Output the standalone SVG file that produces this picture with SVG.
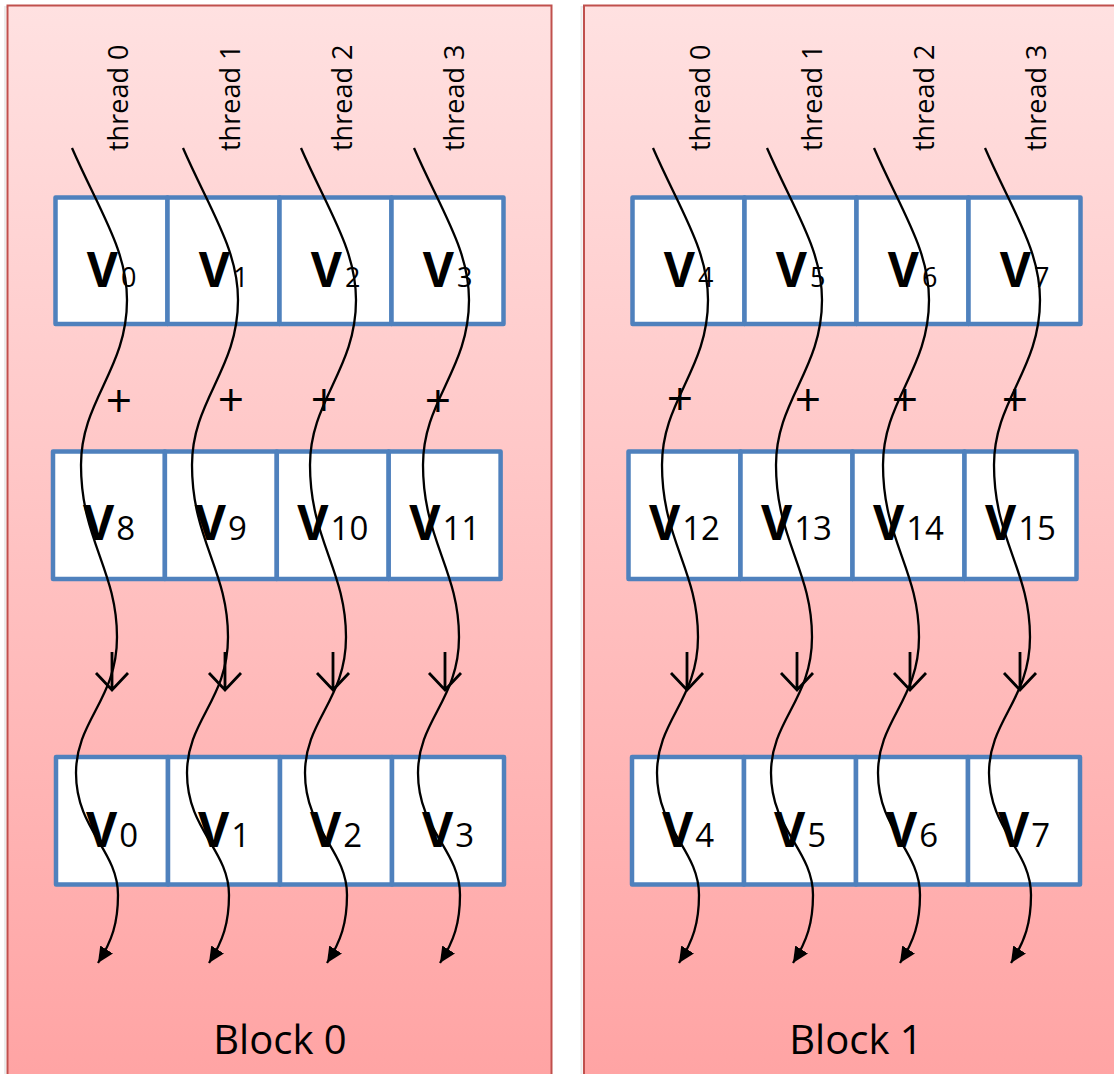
<svg xmlns="http://www.w3.org/2000/svg" width="1114" height="1074" viewBox="0 0 1114 1074">
  <defs>
    <linearGradient id="blockFill" gradientUnits="userSpaceOnUse" x1="0" y1="5" x2="0" y2="1074">
      <stop offset="0" stop-color="#ffe1e1"/>
      <stop offset="1" stop-color="#ffa4a4"/>
    </linearGradient>
    <marker id="head" markerUnits="userSpaceOnUse" markerWidth="17" markerHeight="15" refX="16" refY="7.5" orient="auto">
      <path d="M0,0 L16,7.5 L0,15 z" fill="#000"/>
    </marker>
  </defs>
  <style>
    .block { fill: url(#blockFill); stroke: #c0504d; stroke-width: 2; }
    .shadow { fill: none; stroke: #000; stroke-opacity: 0.08; stroke-width: 2; }
    .cell { fill: #fff; stroke: #4f81bd; stroke-width: 4.5; stroke-linejoin: round; }
    .v { font-family: "Open Sans", "Liberation Sans", sans-serif; font-weight: bold; font-size: 48px; fill: #000; text-anchor: middle; }
    .s1 { font-weight: normal; font-size: 27px; }
    .s2 { font-weight: normal; font-size: 33px; }
    .thread { font-family: "Open Sans", "Liberation Sans", sans-serif; font-size: 27px; fill: #000; }
    .plus { font-family: "Open Sans", "Liberation Sans", sans-serif; font-size: 46px; fill: #000; text-anchor: middle; }
    .label { font-family: "Open Sans", "Liberation Sans", sans-serif; font-size: 40px; fill: #000; text-anchor: middle; }
    .down { fill: none; stroke: #000; stroke-width: 2.8; }
    .wire { fill: none; stroke: #000; stroke-width: 2.3; marker-end: url(#head); }
  </style>

  <!-- blocks -->
  <g id="block0">
    <rect class="shadow" x="5" y="7" width="544" height="1100"/>
    <rect class="block" x="7.5" y="5.5" width="544" height="1100"/>
    <text class="label" x="280" y="1054">Block 0</text>
  </g>
  <g id="block1">
    <rect class="shadow" x="581.5" y="7" width="560" height="1100"/>
    <rect class="block" x="584" y="5.5" width="560" height="1100"/>
    <text class="label" x="856" y="1054">Block 1</text>
  </g>

  <!-- block 0, input row A -->
  <g id="b0-a0"><rect class="cell" x="55.5" y="197.5" width="112" height="126.5"/><text class="v" x="111.5" y="287">V<tspan class="s1" dx="3">0</tspan></text></g>
  <g id="b0-a1"><rect class="cell" x="167.5" y="197.5" width="112" height="126.5"/><text class="v" x="223.5" y="287">V<tspan class="s1" dx="3">1</tspan></text></g>
  <g id="b0-a2"><rect class="cell" x="279.5" y="197.5" width="112" height="126.5"/><text class="v" x="335.5" y="287">V<tspan class="s1" dx="3">2</tspan></text></g>
  <g id="b0-a3"><rect class="cell" x="391.5" y="197.5" width="112" height="126.5"/><text class="v" x="447.5" y="287">V<tspan class="s1" dx="3">3</tspan></text></g>

  <!-- block 0, input row B -->
  <g id="b0-b0"><rect class="cell" x="53" y="451.5" width="111.9" height="127.5"/><text class="v" x="109" y="540">V<tspan class="s2" dx="2">8</tspan></text></g>
  <g id="b0-b1"><rect class="cell" x="164.9" y="451.5" width="111.9" height="127.5"/><text class="v" x="220.9" y="540">V<tspan class="s2" dx="2">9</tspan></text></g>
  <g id="b0-b2"><rect class="cell" x="276.8" y="451.5" width="111.9" height="127.5"/><text class="v" x="332.8" y="540">V<tspan class="s2" dx="2">10</tspan></text></g>
  <g id="b0-b3"><rect class="cell" x="388.7" y="451.5" width="111.9" height="127.5"/><text class="v" x="444.7" y="540">V<tspan class="s2" dx="2">11</tspan></text></g>

  <!-- block 0, output row -->
  <g id="b0-c0"><rect class="cell" x="56" y="757" width="112" height="127.5"/><text class="v" x="112" y="847">V<tspan class="s2" dx="2">0</tspan></text></g>
  <g id="b0-c1"><rect class="cell" x="168" y="757" width="112" height="127.5"/><text class="v" x="224" y="847">V<tspan class="s2" dx="2">1</tspan></text></g>
  <g id="b0-c2"><rect class="cell" x="280" y="757" width="112" height="127.5"/><text class="v" x="336" y="847">V<tspan class="s2" dx="2">2</tspan></text></g>
  <g id="b0-c3"><rect class="cell" x="392" y="757" width="112" height="127.5"/><text class="v" x="448" y="847">V<tspan class="s2" dx="2">3</tspan></text></g>

  <!-- block 1, input row A -->
  <g id="b1-a0"><rect class="cell" x="632.5" y="197.5" width="112" height="126.5"/><text class="v" x="688.5" y="287">V<tspan class="s1" dx="3">4</tspan></text></g>
  <g id="b1-a1"><rect class="cell" x="744.5" y="197.5" width="112" height="126.5"/><text class="v" x="800.5" y="287">V<tspan class="s1" dx="3">5</tspan></text></g>
  <g id="b1-a2"><rect class="cell" x="856.5" y="197.5" width="112" height="126.5"/><text class="v" x="912.5" y="287">V<tspan class="s1" dx="3">6</tspan></text></g>
  <g id="b1-a3"><rect class="cell" x="968.5" y="197.5" width="112" height="126.5"/><text class="v" x="1024.5" y="287">V<tspan class="s1" dx="3">7</tspan></text></g>

  <!-- block 1, input row B -->
  <g id="b1-b0"><rect class="cell" x="628.5" y="451.5" width="112" height="127.5"/><text class="v" x="684.5" y="540">V<tspan class="s2" dx="2">12</tspan></text></g>
  <g id="b1-b1"><rect class="cell" x="740.5" y="451.5" width="112" height="127.5"/><text class="v" x="796.5" y="540">V<tspan class="s2" dx="2">13</tspan></text></g>
  <g id="b1-b2"><rect class="cell" x="852.5" y="451.5" width="112" height="127.5"/><text class="v" x="908.5" y="540">V<tspan class="s2" dx="2">14</tspan></text></g>
  <g id="b1-b3"><rect class="cell" x="964.5" y="451.5" width="112" height="127.5"/><text class="v" x="1020.5" y="540">V<tspan class="s2" dx="2">15</tspan></text></g>

  <!-- block 1, output row -->
  <g id="b1-c0"><rect class="cell" x="632" y="757" width="112" height="127.5"/><text class="v" x="688" y="847">V<tspan class="s2" dx="2">4</tspan></text></g>
  <g id="b1-c1"><rect class="cell" x="744" y="757" width="112" height="127.5"/><text class="v" x="800" y="847">V<tspan class="s2" dx="2">5</tspan></text></g>
  <g id="b1-c2"><rect class="cell" x="856" y="757" width="112" height="127.5"/><text class="v" x="912" y="847">V<tspan class="s2" dx="2">6</tspan></text></g>
  <g id="b1-c3"><rect class="cell" x="968" y="757" width="112" height="127.5"/><text class="v" x="1024" y="847">V<tspan class="s2" dx="2">7</tspan></text></g>

  <!-- thread labels, reading upwards -->
  <g id="thread-labels">
    <text class="thread" transform="translate(128,151) rotate(-90)">thread 0</text>
    <text class="thread" transform="translate(240,151) rotate(-90)">thread 1</text>
    <text class="thread" transform="translate(352,151) rotate(-90)">thread 2</text>
    <text class="thread" transform="translate(464,151) rotate(-90)">thread 3</text>
    <text class="thread" transform="translate(710,151) rotate(-90)">thread 0</text>
    <text class="thread" transform="translate(822,151) rotate(-90)">thread 1</text>
    <text class="thread" transform="translate(934,151) rotate(-90)">thread 2</text>
    <text class="thread" transform="translate(1046,151) rotate(-90)">thread 3</text>
  </g>

  <!-- add operators -->
  <g id="plus-signs">
    <text class="plus" x="119" y="417">+</text>
    <text class="plus" x="231" y="416">+</text>
    <text class="plus" x="324" y="416">+</text>
    <text class="plus" x="438" y="417">+</text>
    <text class="plus" x="680" y="415">+</text>
    <text class="plus" x="808" y="416">+</text>
    <text class="plus" x="905" y="416">+</text>
    <text class="plus" x="1015" y="416">+</text>
  </g>

  <!-- store arrows -->
  <g id="store-arrows">
    <path class="down" d="M112,652 V690 M96,673 L112,690 L128,673"/>
    <path class="down" d="M225,652 V690 M209,673 L225,690 L241,673"/>
    <path class="down" d="M333,652 V690 M317,673 L333,690 L349,673"/>
    <path class="down" d="M445,652 V690 M429,673 L445,690 L461,673"/>
    <path class="down" d="M687,652 V690 M671,673 L687,690 L703,673"/>
    <path class="down" d="M797,652 V690 M781,673 L797,690 L813,673"/>
    <path class="down" d="M910,652 V690 M894,673 L910,690 L926,673"/>
    <path class="down" d="M1020,652 V690 M1004,673 L1020,690 L1036,673"/>
  </g>

  <!-- thread paths -->
  <g id="connectors">
    <path class="wire" transform="translate(72,148)" d="M0,0 C28,64 55,102 55,152 C55,222 9,252 9,317 C9,392 45,422 45,489 C45,552 4,572 4,625 C4,682 46,702 46,747 C46,775 40,793 26,815"/>
    <path class="wire" transform="translate(183,148)" d="M0,0 C28,64 55,102 55,152 C55,222 9,252 9,317 C9,392 45,422 45,489 C45,552 4,572 4,625 C4,682 46,702 46,747 C46,775 40,793 26,815"/>
    <path class="wire" transform="translate(301,148)" d="M0,0 C28,64 55,102 55,152 C55,222 9,252 9,317 C9,392 45,422 45,489 C45,552 4,572 4,625 C4,682 46,702 46,747 C46,775 40,793 26,815"/>
    <path class="wire" transform="translate(414,148)" d="M0,0 C28,64 55,102 55,152 C55,222 9,252 9,317 C9,392 45,422 45,489 C45,552 4,572 4,625 C4,682 46,702 46,747 C46,775 40,793 26,815"/>
    <path class="wire" transform="translate(653,148)" d="M0,0 C28,64 55,102 55,152 C55,222 9,252 9,317 C9,392 45,422 45,489 C45,552 4,572 4,625 C4,682 46,702 46,747 C46,775 40,793 26,815"/>
    <path class="wire" transform="translate(767,148)" d="M0,0 C28,64 55,102 55,152 C55,222 9,252 9,317 C9,392 45,422 45,489 C45,552 4,572 4,625 C4,682 46,702 46,747 C46,775 40,793 26,815"/>
    <path class="wire" transform="translate(874,148)" d="M0,0 C28,64 55,102 55,152 C55,222 9,252 9,317 C9,392 45,422 45,489 C45,552 4,572 4,625 C4,682 46,702 46,747 C46,775 40,793 26,815"/>
    <path class="wire" transform="translate(985,148)" d="M0,0 C28,64 55,102 55,152 C55,222 9,252 9,317 C9,392 45,422 45,489 C45,552 4,572 4,625 C4,682 46,702 46,747 C46,775 40,793 26,815"/>
  </g>
</svg>
